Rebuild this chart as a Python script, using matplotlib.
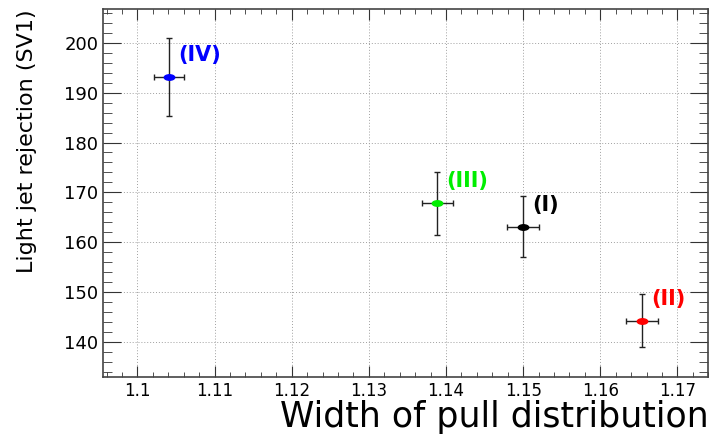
import numpy as np
import matplotlib
matplotlib.use("Agg")
import matplotlib.pyplot as plt
from matplotlib.path import Path
from matplotlib.ticker import MultipleLocator, FuncFormatter

# data
labels = ["(I)", "(II)", "(III)", "(IV)"]
colors = ["#000000", "#ff0000", "#00ee00", "#0000ff"]
pull_width = [1.1500, 1.1654, 1.1389, 1.1041]
pull_width_err = [0.0021, 0.0021, 0.0020, 0.0020]
rejection = [163.1, 144.2, 167.8, 193.1]
rejection_err = [6.1, 5.3, 6.3, 7.8]

plt.rcParams['font.family'] = ['DejaVu Sans']

fig = plt.figure(figsize=(7.10, 4.36), dpi=100, facecolor='white')
ax = fig.add_axes([0.1446, 0.136, 0.853, 0.8434])

# squashed circle, like the stretched ROOT markers
circ = Path.unit_circle()
ellipse = Path(circ.vertices * np.array([1.9, 1.0]), circ.codes)

for xv, xe, yv, ye, lab, col in zip(pull_width, pull_width_err, rejection,
                                    rejection_err, labels, colors):
    ax.errorbar(xv, yv, xerr=xe, yerr=ye, fmt='none', ecolor='#222222',
                elinewidth=1.0, capsize=2.5, capthick=1.0, zorder=3)
    ax.plot(xv, yv, linestyle='none', marker=ellipse, markersize=7.5,
            color=col, zorder=4)
    ax.annotate(lab, (xv, yv), xytext=(6.5, 16), textcoords='offset points',
                ha='left', va='center', color=col, fontsize=15,
                fontweight='bold', zorder=5)

ax.set_xlim(1.0955, 1.174)
ax.set_ylim(133.0, 206.8)

ax.xaxis.set_major_locator(MultipleLocator(0.01))
ax.xaxis.set_minor_locator(MultipleLocator(0.002))
ax.yaxis.set_major_locator(MultipleLocator(10))
ax.yaxis.set_minor_locator(MultipleLocator(2))
ax.xaxis.set_major_formatter(FuncFormatter(lambda v, p: '%g' % round(v, 3)))

ax.grid(True, which='major', color='#a0a0a0', linestyle=(0, (1, 2)),
        linewidth=0.7, zorder=1)
ax.set_axisbelow(True)

ax.tick_params(axis='both', which='both', direction='in', top=True,
               right=True, color='#333333')
ax.tick_params(axis='x', which='major', length=8, labelsize=12, pad=4)
ax.tick_params(axis='x', which='minor', length=3.6)
ax.tick_params(axis='y', which='major', length=13, labelsize=13, pad=3)
ax.tick_params(axis='y', which='minor', length=6.5)

for sp in ax.spines.values():
    sp.set_color('#444444')
    sp.set_linewidth(1.2)

ax.set_xlabel('Width of pull distribution', fontsize=25, loc='right')
ax.xaxis.label.set_va('baseline')
ax.xaxis.set_label_coords(1.0, -0.138)

ax.set_ylabel('Light jet rejection (SV1)', fontsize=16, loc='top')
ax.yaxis.label.set_va('baseline')
ax.yaxis.set_label_coords(-0.115, 1.0)

fig.savefig('out.png', dpi=100, facecolor='white')
